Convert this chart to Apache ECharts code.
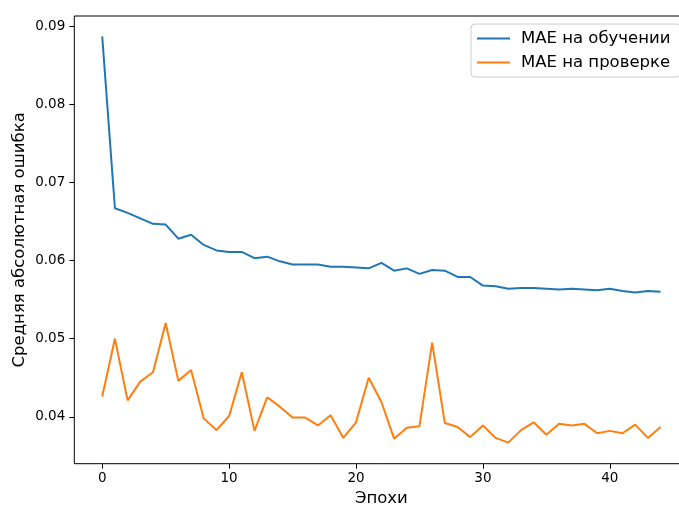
<!DOCTYPE html>
<html>
<head>
<meta charset="utf-8">
<script src="https://cdn.jsdelivr.net/npm/echarts@6/dist/echarts.min.js"></script>
<style>
html,body{margin:0;padding:0;background:#fff;}
#chart{width:679px;height:505px;}
</style>
</head>
<body>
<div id="chart"></div>
<script>
const epochs = [0,1,2,3,4,5,6,7,8,9,10,11,12,13,14,15,16,17,18,19,20,21,22,23,24,25,26,27,28,29,30,31,32,33,34,35,36,37,38,39,40,41,42,43,44];
const trainMae = [0.0887,0.0667,0.0661,0.0654,0.0647,0.0646,0.0628,0.0633,0.0620,0.0613,0.0611,0.0611,0.0603,0.0605,0.0599,0.0595,0.0595,0.0595,0.0592,0.0592,0.0591,0.0590,0.0597,0.0587,0.0590,0.0583,0.0588,0.0587,0.0579,0.0579,0.0568,0.0567,0.0564,0.0565,0.0565,0.0564,0.0563,0.0564,0.0563,0.0562,0.0564,0.0561,0.0559,0.0561,0.0560];
const valMae = [0.0426,0.0500,0.0421,0.0445,0.0457,0.0520,0.0446,0.0460,0.0398,0.0383,0.0401,0.0457,0.0382,0.0425,0.0413,0.0399,0.0399,0.0389,0.0402,0.0373,0.0393,0.0450,0.0419,0.0372,0.0386,0.0388,0.0495,0.0392,0.0387,0.0374,0.0389,0.0373,0.0367,0.0383,0.0393,0.0377,0.0391,0.0389,0.0391,0.0379,0.0382,0.0379,0.0390,0.0373,0.0387];
const xTicks = [0,10,20,30,40];
const yTicks = [0.04,0.05,0.06,0.07,0.08,0.09];
const seriesNames = ['MAE на обучении','MAE на проверке'];

const font = 'DejaVu Sans';
const chart = echarts.init(document.getElementById('chart'), null, {renderer:'canvas'});
chart.setOption({
  animation:false,
  backgroundColor:'#fff',
  textStyle:{fontFamily:font},
  grid:{left:74.3, top:16, right:-9.5, bottom:41.3, containLabel:false, outerBoundsMode:'none',
        show:true, borderColor:'#000', borderWidth:1, backgroundColor:'transparent'},
  legend:{
    orient:'vertical', left:471, top:24,
    data:seriesNames,
    icon:'rect', itemWidth:33, itemHeight:2, itemGap:7,
    padding:[6,10,6,6],
    backgroundColor:'rgba(255,255,255,0.8)',
    borderColor:'#cccccc', borderWidth:1, borderRadius:4,
    textStyle:{fontFamily:font, fontSize:16.5, color:'#000', padding:[0,0,0,6]}
  },
  xAxis:{
    type:'value', min:-2.2, max:46.2,
    name:'Эпохи', nameLocation:'middle', nameGap:27, nameMoveOverlap:false,
    nameTextStyle:{fontFamily:font, fontSize:16.5, color:'#000'},
    axisLine:{show:false, onZero:false},
    axisTick:{show:true, inside:false, length:5, customValues:xTicks, lineStyle:{color:'#000', width:1}},
    axisLabel:{customValues:xTicks, margin:8, fontFamily:font, fontSize:13.5, color:'#000', formatter:v=>String(v)},
    splitLine:{show:false}
  },
  yAxis:{
    type:'value', min:0.034, max:0.0913,
    name:'Средняя абсолютная ошибка', nameLocation:'middle', nameGap:46, nameMoveOverlap:false,
    nameTextStyle:{fontFamily:font, fontSize:16.5, color:'#000'},
    axisLine:{show:false, onZero:false},
    axisTick:{show:true, inside:false, length:5, customValues:yTicks, lineStyle:{color:'#000', width:1}},
    axisLabel:{customValues:yTicks, margin:9, fontFamily:font, fontSize:13.5, color:'#000', formatter:v=>v.toFixed(2)},
    splitLine:{show:false}
  },
  series:[
    {name:seriesNames[0], type:'line', data:epochs.map((e,i)=>[e,trainMae[i]]), symbol:'none', color:'#1f77b4', lineStyle:{width:2, color:'#1f77b4'}, z:2},
    {name:seriesNames[1], type:'line', data:epochs.map((e,i)=>[e,valMae[i]]), symbol:'none', color:'#ff7f0e', lineStyle:{width:2, color:'#ff7f0e'}, z:3}
  ]
});
</script>
</body>
</html>
